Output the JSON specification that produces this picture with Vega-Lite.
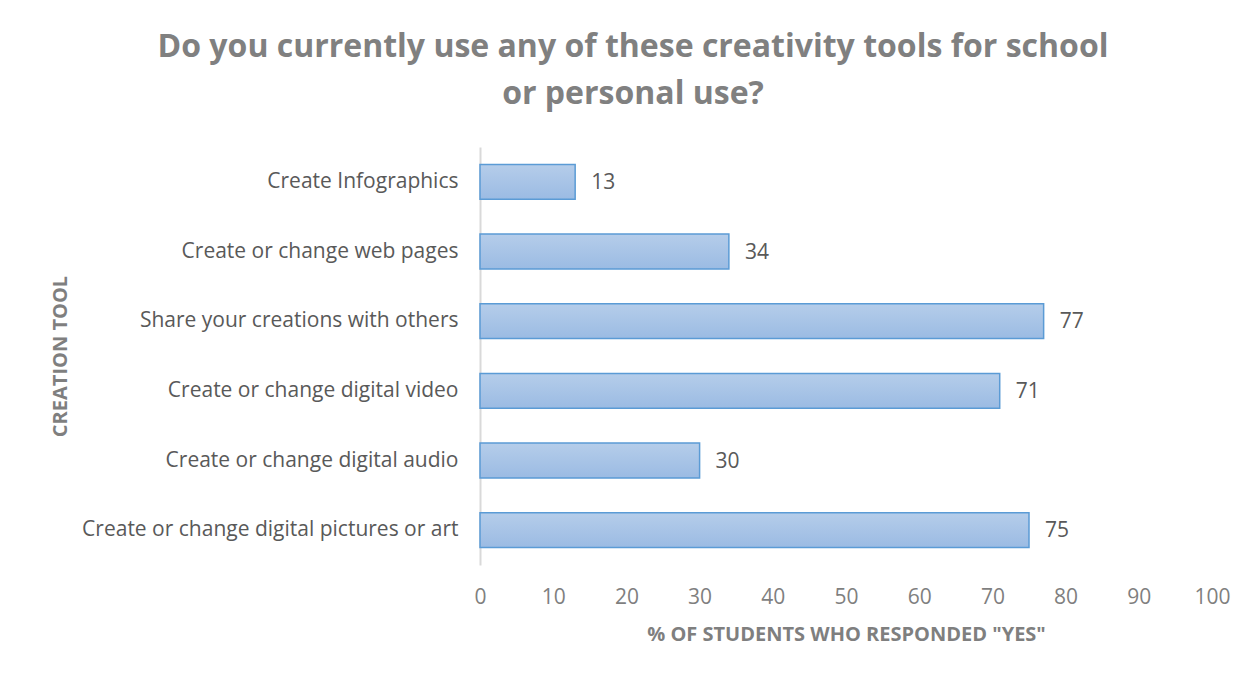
{
  "$schema": "https://vega.github.io/schema/vega-lite/v6.json",
  "autosize": {"type": "none"},
  "width": 732,
  "height": 418,
  "padding": {"left": 480, "top": 147, "right": 45, "bottom": 110},
  "background": "white",
  "title": {
    "text": ["Do you currently use any of these creativity tools for school", "or personal use?"],
    "anchor": "middle",
    "frame": "group",
    "dx": -213,
    "offset": 36,
    "font": "Open Sans",
    "fontSize": 32,
    "fontWeight": "bold",
    "color": "#808080",
    "lineHeight": 47
  },
  "config": {
    "view": {"stroke": null},
    "font": "Open Sans"
  },
  "data": {
    "values": [
      {"tool": "Create Infographics", "pct": 13},
      {"tool": "Create or change web pages", "pct": 34},
      {"tool": "Share your creations with others", "pct": 77},
      {"tool": "Create or change digital video", "pct": 71},
      {"tool": "Create or change digital audio", "pct": 30},
      {"tool": "Create or change digital pictures or art", "pct": 75}
    ]
  },
  "encoding": {
    "y": {
      "field": "tool",
      "type": "nominal",
      "sort": null,
      "scale": {"paddingInner": 0.5, "paddingOuter": 0.25},
      "axis": {
        "title": "CREATION TOOL",
        "titleFont": "Open Sans",
        "titleFontSize": 20,
        "titleFontWeight": "bold",
        "titleColor": "#7f7f7f",
        "titleAngle": -90,
        "titleX": -420,
        "titleY": 209,
        "titleAlign": "center",
        "titleBaseline": "middle",
        "labelFont": "Open Sans",
        "labelFontSize": 21,
        "labelColor": "#595959",
        "labelPadding": 22,
        "labelLimit": 500,
        "ticks": false,
        "domainColor": "#d9d9d9",
        "domainWidth": 2
      }
    },
    "x": {
      "field": "pct",
      "type": "quantitative",
      "scale": {"domain": [0, 100]},
      "axis": {
        "title": "% OF STUDENTS WHO RESPONDED \"YES\"",
        "titleFont": "Open Sans",
        "titleFontSize": 20,
        "titleFontWeight": "bold",
        "titleColor": "#7f7f7f",
        "titlePadding": 17,
        "values": [0, 10, 20, 30, 40, 50, 60, 70, 80, 90, 100],
        "labelFont": "Open Sans",
        "labelFontSize": 21,
        "labelColor": "#7f7f7f",
        "labelPadding": 21,
        "labelFlush": false,
        "ticks": false,
        "domain": false,
        "grid": false
      }
    }
  },
  "layer": [
    {
      "mark": {
        "type": "bar",
        "stroke": "#5b9bd5",
        "strokeWidth": 1.5,
        "color": {
          "gradient": "linear",
          "x1": 0, "y1": 0, "x2": 0, "y2": 1,
          "stops": [
            {"offset": 0, "color": "#b5cdea"},
            {"offset": 1, "color": "#9bbbe3"}
          ]
        }
      }
    },
    {
      "mark": {
        "type": "text",
        "align": "left",
        "baseline": "middle",
        "dx": 16,
        "dy": 1,
        "font": "Open Sans",
        "fontSize": 21,
        "color": "#595959"
      },
      "encoding": {"text": {"field": "pct", "type": "quantitative"}}
    }
  ]
}
